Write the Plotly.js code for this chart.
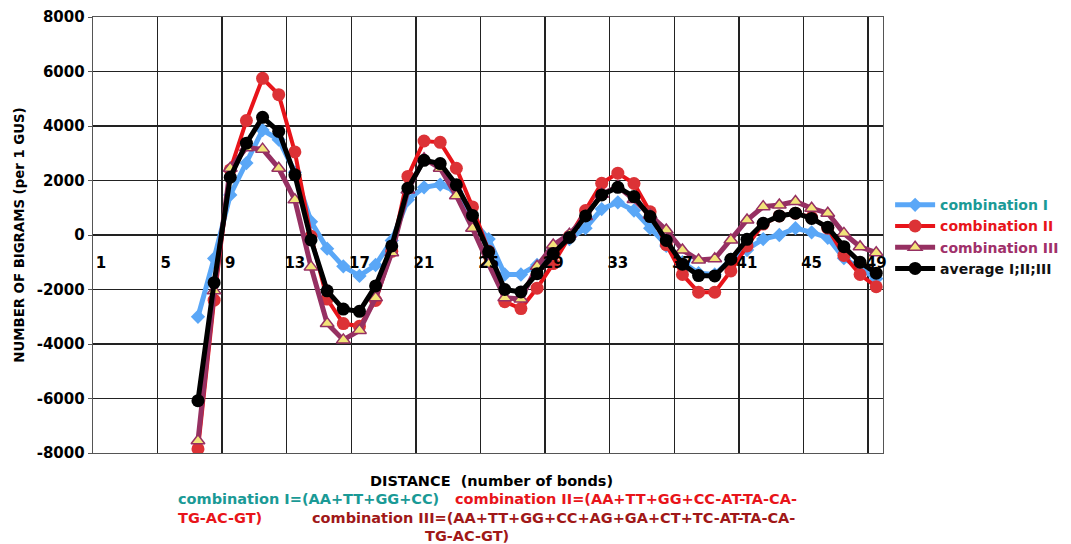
<!DOCTYPE html>
<html>
<head>
<meta charset="utf-8">
<script src="https://cdn.plot.ly/plotly-3.0.1.min.js"></script>
<style>html,body{margin:0;padding:0;background:#fff;}#chart{width:1071px;height:544px;}</style>
</head>
<body>
<div id="chart"></div>
<script>
// distance (number of bonds) for plotted points
const distance = [7,8,9,10,11,12,13,14,15,16,17,18,19,20,21,22,23,24,25,26,27,28,29,30,31,32,33,34,35,36,37,38,39,40,41,42,43,44,45,46,47,48,49];

const combinationI = [-3000,-860,1470,2640,3850,3500,2300,490,-500,-1150,-1500,-1100,-200,1290,1750,1850,1600,550,-150,-1450,-1450,-1100,-550,-150,250,950,1200,900,250,-400,-1000,-1400,-1450,-900,-550,-150,0,250,100,-100,-850,-1200,-1600];

const combinationII = [-7850,-2390,2390,4200,5750,5150,3050,-50,-2350,-3250,-3350,-2400,-600,2150,3450,3400,2450,1030,-600,-2450,-2700,-1950,-1050,-50,900,1900,2270,1890,850,-350,-1450,-2100,-2100,-1320,-400,400,700,800,650,250,-750,-1450,-1900];

const combinationIII = [-7550,-2050,2450,3200,3150,2450,1290,-1170,-3250,-3850,-3500,-2300,-650,1650,2800,2450,1440,245,-1070,-2300,-2350,-1150,-370,30,680,1500,1780,1300,730,185,-550,-920,-870,-185,550,1040,1100,1230,980,800,60,-430,-650];

const averageIIIIII = [-6080,-1750,2120,3370,4320,3800,2210,-180,-2050,-2720,-2800,-1870,-400,1720,2740,2620,1840,720,-615,-2000,-2090,-1420,-680,-90,700,1470,1750,1410,675,-200,-1070,-1490,-1500,-890,-160,430,700,800,610,280,-430,-1000,-1400];

const tickPositions = [1,5,9,13,17,21,25,29,33,37,41,45,49];
const tickLabels = ['1','5','9','13','17','21','25','29','33','37','41','45','49'];
const gridPositions = [0.5,4.5,8.5,12.5,16.5,20.5,24.5,28.5,32.5,36.5,40.5,44.5,48.5];
const yTicks = [-8000,-6000,-4000,-2000,0,2000,4000,6000,8000];

const FONT = 'DejaVu Sans, Verdana, sans-serif';
const FS = 14.5;

const traces = [
  {x: distance, y: combinationI, mode: 'lines+markers', name: '<span style="color:#1a9a96"><b>combination I</b></span>',
   line: {color: '#5aa7f7', width: 5}, marker: {symbol: 'diamond', size: 11, color: '#5aa7f7'}},
  {x: distance, y: combinationII, mode: 'lines+markers', name: '<span style="color:#e8141a"><b>combination II</b></span>',
   line: {color: '#e8141a', width: 4}, marker: {symbol: 'circle', size: 13, color: '#dc3236'}},
  {x: distance, y: combinationIII, mode: 'lines+markers', name: '<span style="color:#a0306a"><b>combination III</b></span>',
   line: {color: '#963062', width: 5}, marker: {symbol: 'triangle-up', size: 12, color: '#f2e47a', line: {color: '#963062', width: 1.5}}},
  {x: distance, y: averageIIIIII, mode: 'lines+markers', name: '<span style="color:#111"><b>average I;II;III</b></span>',
   line: {color: '#000000', width: 5}, marker: {symbol: 'circle', size: 13, color: '#000000'}},
  {x: tickPositions, y: tickPositions.map(() => 0), xaxis: 'x2', mode: 'markers', marker: {opacity: 0}, showlegend: false, hoverinfo: 'skip'}
];

const layout = {
  width: 1071, height: 544,
  margin: {l: 93, r: 188, t: 17, b: 91, autoexpand: false},
  paper_bgcolor: '#ffffff', plot_bgcolor: '#ffffff',
  font: {family: FONT, color: '#000'},
  showlegend: true,
  legend: {x: 1.009, y: 0.605, xanchor: 'left', yanchor: 'top', font: {family: FONT, size: 14, weight: 'bold'},
           itemwidth: 40, tracegroupgap: 0, bgcolor: 'rgba(0,0,0,0)'},
  xaxis: {range: [0.5, 49.42], tickvals: gridPositions, showticklabels: false, ticks: '',
          showgrid: true, gridcolor: '#222', gridwidth: 1.4, zeroline: false,
          showline: true, linecolor: '#555', linewidth: 1.3, mirror: true},
  xaxis2: {overlaying: 'x', anchor: 'free', position: 0.5, range: [0.5, 49.42], tickvals: tickPositions, ticktext: tickLabels,
           showgrid: false, zeroline: false, showline: false, ticks: 'outside', ticklen: 14, tickcolor: 'rgba(0,0,0,0)',
           tickfont: {family: FONT, size: 15, weight: 'bold', color: '#000'}},
  yaxis: {range: [-8000, 8000], tickvals: yTicks, ticktext: yTicks.map(String), showgrid: true, gridcolor: '#222', gridwidth: 1.4,
          zeroline: false, showline: true, linecolor: '#555', linewidth: 1.3, mirror: true,
          ticks: 'outside', ticklen: 4, tickcolor: '#555',
          tickfont: {family: FONT, size: 15, weight: 'bold', color: '#000'},
          title: {text: '<b>NUMBER OF BIGRAMS (per 1 GUS)</b>', font: {family: FONT, size: 13.3, color: '#000'}, standoff: 9}},
  annotations: [
    {xref: 'paper', yref: 'paper', x: 0.504, y: -0.064, xanchor: 'center', yanchor: 'middle', showarrow: false,
     text: '<b>DISTANCE  (number of bonds)</b>', font: {family: FONT, size: FS, color: '#000'}},
    {xref: 'paper', yref: 'paper', x: 0.105, y: -0.1055, xanchor: 'left', yanchor: 'middle', showarrow: false,
     text: '<b>combination I=(AA+TT+GG+CC)</b>', font: {family: FONT, size: FS, color: '#1a9a96'}},
    {xref: 'paper', yref: 'paper', x: 0.894, y: -0.1055, xanchor: 'right', yanchor: 'middle', showarrow: false,
     text: '<b>combination II=(AA+TT+GG+CC-AT-TA-CA-</b>', font: {family: FONT, size: FS, color: '#e8141a'}},
    {xref: 'paper', yref: 'paper', x: 0.105, y: -0.149, xanchor: 'left', yanchor: 'middle', showarrow: false,
     text: '<b>TG-AC-GT)</b>', font: {family: FONT, size: FS, color: '#e8141a'}},
    {xref: 'paper', yref: 'paper', x: 0.891, y: -0.149, xanchor: 'right', yanchor: 'middle', showarrow: false,
     text: '<b>combination III=(AA+TT+GG+CC+AG+GA+CT+TC-AT-TA-CA-</b>', font: {family: FONT, size: FS, color: '#a01818'}},
    {xref: 'paper', yref: 'paper', x: 0.473, y: -0.19, xanchor: 'center', yanchor: 'middle', showarrow: false,
     text: '<b>TG-AC-GT)</b>', font: {family: FONT, size: FS, color: '#a01818'}}
  ]
};

Plotly.newPlot('chart', traces, layout, {displayModeBar: false, staticPlot: true});
</script>
</body>
</html>
